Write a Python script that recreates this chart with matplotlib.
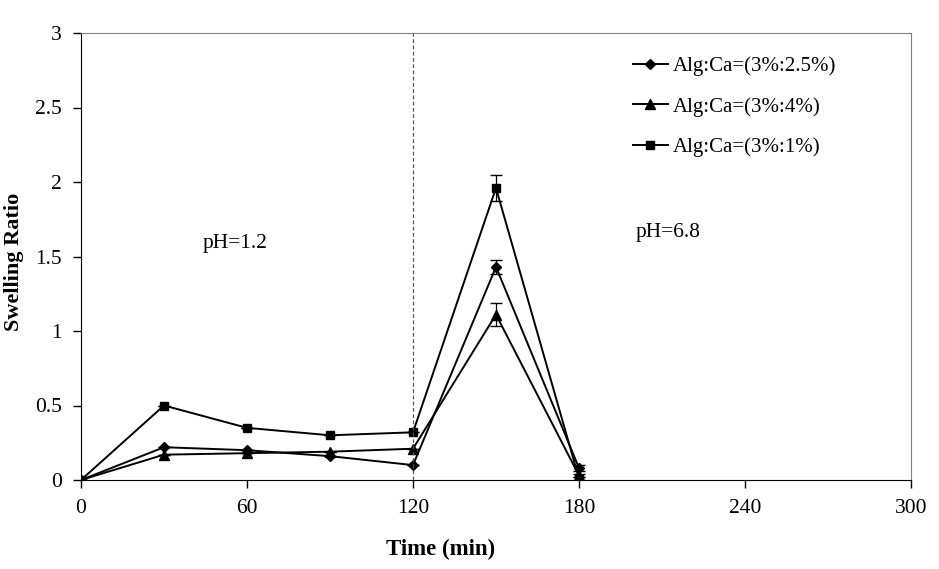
import matplotlib
matplotlib.use('Agg')
import matplotlib.pyplot as plt

plt.rcParams['font.family'] = ['Liberation Serif', 'DejaVu Serif']

# time points and swelling values
time = [0, 30, 60, 90, 120, 150, 180]
ratio_25 = [0, 0.22, 0.20, 0.16, 0.10, 1.43, 0.08]
ratio_4 = [0, 0.17, 0.18, 0.19, 0.21, 1.11, 0.03]
ratio_1 = [0, 0.50, 0.35, 0.30, 0.32, 1.96, 0.01]
err_25 = [0, 0, 0, 0, 0, 0.045, 0.02]
err_4 = [0, 0, 0, 0, 0, 0.075, 0.01]
err_1 = [0, 0, 0, 0, 0, 0.085, 0.01]

fig = plt.figure(figsize=(9.39, 5.69), dpi=100)
ax = fig.add_axes([81/939, 89/569, 830/939, 447/569])

# error bars first, then the lines with markers
for y, e in [(ratio_25, err_25), (ratio_4, err_4), (ratio_1, err_1)]:
    ax.errorbar(time, y, yerr=e, fmt='none', ecolor='black', capsize=4, elinewidth=0.9)

ax.plot(time, ratio_25, color='black', marker='D', markersize=5, linewidth=1.4,
        label='Alg:Ca=(3%:2.5%)')
ax.plot(time, ratio_4, color='black', marker='^', markersize=6.5, linewidth=1.4,
        label='Alg:Ca=(3%:4%)')
ax.plot(time, ratio_1, color='black', marker='s', markersize=6, linewidth=1.4,
        label='Alg:Ca=(3%:1%)')

ax.axvline(120, color='#555555', linestyle='--', linewidth=0.9, dashes=(3, 2))

ax.text(44, 1.56, 'pH=1.2', fontsize=15.5)
ax.text(200.5, 1.63, 'pH=6.8', fontsize=15.5)

ax.set_xlim(0, 300)
ax.set_ylim(0, 3)
ax.set_xticks([0, 60, 120, 180, 240, 300])
ax.set_yticks([0, 0.5, 1, 1.5, 2, 2.5, 3])
ax.set_yticklabels(['0', '0.5', '1', '1.5', '2', '2.5', '3'])
ax.tick_params(direction='out', length=6, labelsize=15.5, width=1, pad=8)
ax.spines['top'].set_color('#808080')
ax.spines['right'].set_color('#808080')

ax.set_xlabel('Time (min)', fontsize=16.5, fontweight='bold')
ax.set_ylabel('Swelling Ratio', fontsize=16, fontweight='bold')
ax.xaxis.set_label_coords(0.433, -0.132)
ax.yaxis.set_label_coords(-0.069, 0.489)

leg = ax.legend(loc='upper left', bbox_to_anchor=(0.642, 0.99), frameon=False,
                fontsize=15, handlelength=1.7, labelspacing=1.0, handletextpad=0.25)

plt.savefig('out.png', dpi=100)
